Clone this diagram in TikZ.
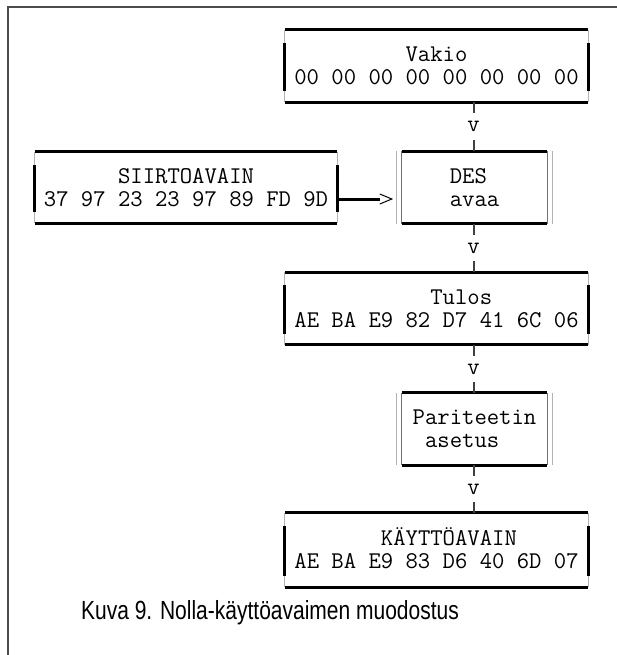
\documentclass[tikz,border=0pt]{standalone}
\usepackage{fontspec}
\newfontfamily\capfont{Liberation Sans}
% left padding by a number of monospace character cells
\newcommand\pad[1]{\hspace*{#1\fontcharwd\font`0}}

% frame of a data box: heavy rules with light corner ticks
\newcommand\dataframe[1]{%
  \draw[corner] (#1.north west) -- (#1.south west);
  \draw[corner] (#1.north east) -- (#1.south east);
  \draw[heavy] (#1.north west) -- (#1.north east);
  \draw[heavy] (#1.south west) -- (#1.south east);
  \draw[heavy] ([yshift=-13pt]#1.north west) -- ([yshift=11pt]#1.south west);
  \draw[heavy] ([yshift=-13pt]#1.north east) -- ([yshift=11pt]#1.south east);}

% frame of a process box: heavy top/bottom, double thin sides
\newcommand\procframe[1]{%
  \draw[corner] (#1.north west) -- (#1.south west);
  \draw[corner] (#1.north east) -- (#1.south east);
  \draw[innerrule] ([xshift=5pt]#1.north west) -- ([xshift=5pt]#1.south west);
  \draw[innerrule] ([xshift=-5pt]#1.north east) -- ([xshift=-5pt]#1.south east);
  \draw[heavy] ([xshift=5pt]#1.north west) -- ([xshift=-5pt]#1.north east);
  \draw[heavy] ([xshift=5pt]#1.south west) -- ([xshift=-5pt]#1.south east);}

\tikzset{
  mono/.style={font=\fontsize{24}{23}\selectfont\ttfamily},
  databox/.style={mono, minimum width=303pt, minimum height=72pt, inner sep=0pt,
    align=left, text height=38pt, text depth=1pt},
  procbox/.style={mono, minimum width=155pt, minimum height=72pt, inner sep=0pt,
    align=left, text height=38pt, text depth=1pt},
  heavy/.style={line width=3pt, black},
  corner/.style={line width=1pt, black!30},
  innerrule/.style={line width=1pt, black!55},
  link/.style={line width=2pt, black!75},
  vmark/.style={mono, inner sep=0pt, text height=10pt, text depth=0pt},
  frameline/.style={line width=2pt, black!70},
  caption/.style={font=\capfont\fontsize{21}{25}\selectfont, inner sep=0pt},
}

\begin{document}
\begin{tikzpicture}[x=1pt,y=-1pt]
\useasboundingbox (0,0) rectangle (617,655);

% page frame
\draw[frameline] (7,7) -- (617,7);
\draw[frameline] (8,7) -- (8,655);

% boxes
\node[databox] (vakio) at (436.5,66) {\pad{9}Vakio\\00 00 00 00 00 00 00 00};
\node[databox, minimum width=302pt, minimum height=71pt] (siirto) at (186,187.5)
  {\pad{6}SIIRTOAVAIN\\37 97 23 23 97 89 FD 9D};
\node[procbox] (des) at (474.5,187.5) {DES\\avaa};
\node[databox] (tulos) at (436.5,308.5) {\pad{11}Tulos\\AE BA E9 82 D7 41 6C 06};
\node[procbox] (pari) at (474.5,429) {Pariteetin\\\pad{1}asetus};
\node[databox, minimum height=74pt] (kaytto) at (436.5,550) {\pad{7}KÄYTTÖAVAIN\\AE BA E9 83 D6 40 6D 07};

\dataframe{vakio}
\dataframe{siirto}
\procframe{des}
\dataframe{tulos}
\procframe{pari}
\dataframe{kaytto}

% flow marks between the boxes
\node[vmark] (v1) at (473.5,127) {v};
\node[vmark] (v2) at (473.5,248) {v};
\node[vmark] (v3) at (473.5,369) {v};
\node[vmark] (v4) at (473.5,489) {v};
\foreach \up/\mk/\dn in {vakio/v1/des, des/v2/tulos, tulos/v3/pari, pari/v4/kaytto} {
  \draw[link] (\up.south -| \mk) -- ++(0,11);
  \draw[link] (\dn.north -| \mk) -- ++(0,-11);
}

% key input arrow into DES
\draw[heavy] ([yshift=-11.5pt]siirto.east) -- ([xshift=-17pt,yshift=-11.5pt]des.west);
\draw[line width=1pt] ([xshift=-17pt,yshift=-6.5pt]des.west)
  -- ([xshift=-5pt,yshift=-11.5pt]des.west)
  -- ([xshift=-17pt,yshift=-16.5pt]des.west);

% caption, set tall and narrow
\node[caption, anchor=base] (cap) at (270,619)
  {\scalebox{1}[1.25]{Kuva 9. Nolla-käyttöavaimen muodostus}};
\end{tikzpicture}
\end{document}
